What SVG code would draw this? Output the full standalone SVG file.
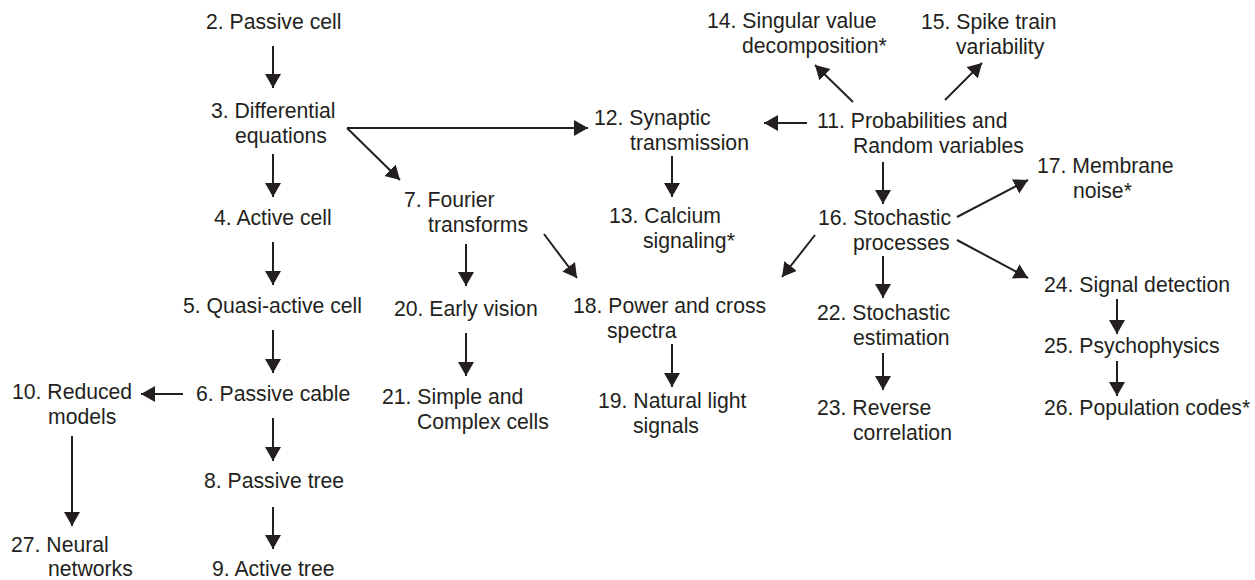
<svg xmlns="http://www.w3.org/2000/svg" width="1255" height="580" viewBox="0 0 1255 580">
<defs>
<style>
.t { font-family: "Liberation Sans", Arial, sans-serif; font-size: 21.2px; fill: #231f20; }
.c { stroke: #231f20; stroke-width: 2; fill: none; marker-end: url(#ah); }
</style>
<marker id="ah" markerUnits="userSpaceOnUse" markerWidth="15" markerHeight="17" refX="14" refY="8" orient="auto">
<path d="M0,0 L14,8 L0,16 z" fill="#231f20"/>
</marker>
</defs>
<rect width="1255" height="580" fill="#ffffff"/>
<g id="connectors">
<path class="c" d="M273,46 L273,88"/>
<path class="c" d="M273,154 L273,197"/>
<path class="c" d="M273,242 L273,285"/>
<path class="c" d="M273,330 L273,373"/>
<path class="c" d="M273,418 L273,461"/>
<path class="c" d="M273,507 L273,549"/>
<path class="c" d="M183,394 L141,394"/>
<path class="c" d="M72,436 L72,526"/>
<path class="c" d="M347,128 L588,128"/>
<path class="c" d="M347,128 L400,180"/>
<path class="c" d="M807,123 L764,123"/>
<path class="c" d="M672,156 L672,197"/>
<path class="c" d="M466,244 L466,286"/>
<path class="c" d="M544,234 L577,278"/>
<path class="c" d="M815,235 L782,277"/>
<path class="c" d="M853,102 L815,65"/>
<path class="c" d="M945,100 L982,63"/>
<path class="c" d="M883,162 L883,204"/>
<path class="c" d="M957,217 L1028,180"/>
<path class="c" d="M957,240 L1028,278"/>
<path class="c" d="M883,256 L883,298"/>
<path class="c" d="M883,353 L883,390"/>
<path class="c" d="M1117,299 L1117,334"/>
<path class="c" d="M1117,361 L1117,396"/>
<path class="c" d="M672,344 L672,387"/>
<path class="c" d="M466,333 L466,376"/>
</g>
<g id="n2"><text class="t" x="206" y="29">2. Passive cell</text></g>
<g id="n3"><text class="t" x="211" y="118">3. Differential</text><text class="t" x="235" y="143">equations</text></g>
<g id="n4"><text class="t" x="214" y="225">4. Active cell</text></g>
<g id="n5"><text class="t" x="183" y="313">5. Quasi-active cell</text></g>
<g id="n6"><text class="t" x="196" y="401">6. Passive cable</text></g>
<g id="n8"><text class="t" x="204" y="488">8. Passive tree</text></g>
<g id="n9"><text class="t" x="212" y="576">9. Active tree</text></g>
<g id="n10"><text class="t" x="12" y="399">10. Reduced</text><text class="t" x="48" y="424">models</text></g>
<g id="n27"><text class="t" x="11" y="552">27. Neural</text><text class="t" x="48" y="576">networks</text></g>
<g id="n7"><text class="t" x="404" y="207">7. Fourier</text><text class="t" x="428" y="232">transforms</text></g>
<g id="n12"><text class="t" x="594" y="125">12. Synaptic</text><text class="t" x="630" y="150">transmission</text></g>
<g id="n13"><text class="t" x="609" y="223">13. Calcium</text><text class="t" x="643" y="248">signaling*</text></g>
<g id="n20"><text class="t" x="394" y="316">20. Early vision</text></g>
<g id="n21"><text class="t" x="382" y="404">21. Simple and</text><text class="t" x="417" y="429">Complex cells</text></g>
<g id="n18"><text class="t" x="573" y="313">18. Power and cross</text><text class="t" x="607" y="338">spectra</text></g>
<g id="n19"><text class="t" x="598" y="408">19. Natural light</text><text class="t" x="633" y="433">signals</text></g>
<g id="n14"><text class="t" x="707" y="28">14. Singular value</text><text class="t" x="742" y="53">decomposition*</text></g>
<g id="n15"><text class="t" x="921" y="29">15. Spike train</text><text class="t" x="956" y="54">variability</text></g>
<g id="n11"><text class="t" x="817" y="128">11. Probabilities and</text><text class="t" x="853" y="153">Random variables</text></g>
<g id="n16"><text class="t" x="818" y="225">16. Stochastic</text><text class="t" x="853" y="250">processes</text></g>
<g id="n17"><text class="t" x="1037" y="173">17. Membrane</text><text class="t" x="1073" y="198">noise*</text></g>
<g id="n24"><text class="t" x="1044" y="292">24. Signal detection</text></g>
<g id="n22"><text class="t" x="817" y="320">22. Stochastic</text><text class="t" x="853" y="345">estimation</text></g>
<g id="n23"><text class="t" x="817" y="415">23. Reverse</text><text class="t" x="853" y="440">correlation</text></g>
<g id="n25"><text class="t" x="1044" y="353">25. Psychophysics</text></g>
<g id="n26"><text class="t" x="1044" y="415">26. Population codes*</text></g>
</svg>
